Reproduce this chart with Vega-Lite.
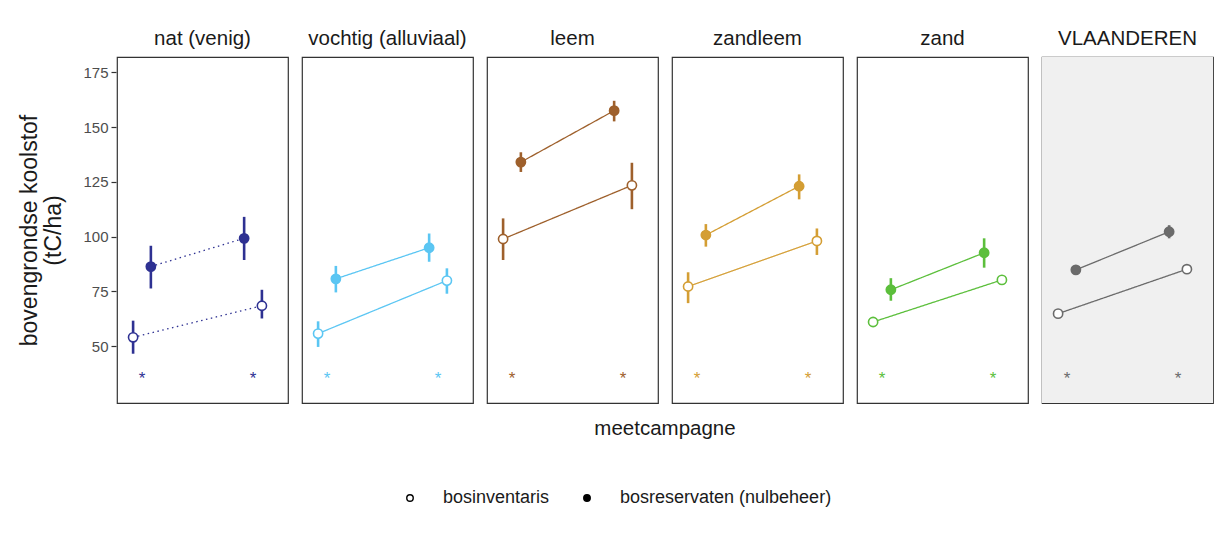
{
  "$schema": "https://vega.github.io/schema/vega-lite/v6.json",
  "background": "white",
  "padding": {"left": 18, "top": 28, "right": 10, "bottom": 10},
  "data": {
    "values": [
      {"soort": "meting", "regio": "nat (venig)", "reeks": "bosinventaris", "tijdstip": 0.92, "waarde": 54.0, "lo": 46.5, "hi": 61.6},
      {"soort": "meting", "regio": "nat (venig)", "reeks": "bosinventaris", "tijdstip": 2.08, "waarde": 68.4, "lo": 62.6, "hi": 75.7},
      {"soort": "meting", "regio": "nat (venig)", "reeks": "bosreservaten (nulbeheer)", "tijdstip": 1.08, "waarde": 86.3, "lo": 76.3, "hi": 95.8},
      {"soort": "meting", "regio": "nat (venig)", "reeks": "bosreservaten (nulbeheer)", "tijdstip": 1.92, "waarde": 99.2, "lo": 89.3, "hi": 109.0},
      {"soort": "meting", "regio": "vochtig (alluviaal)", "reeks": "bosinventaris", "tijdstip": 0.92, "waarde": 55.7, "lo": 49.6, "hi": 61.3},
      {"soort": "meting", "regio": "vochtig (alluviaal)", "reeks": "bosinventaris", "tijdstip": 2.08, "waarde": 79.9, "lo": 73.9, "hi": 85.5},
      {"soort": "meting", "regio": "vochtig (alluviaal)", "reeks": "bosreservaten (nulbeheer)", "tijdstip": 1.08, "waarde": 80.7, "lo": 74.5, "hi": 86.6},
      {"soort": "meting", "regio": "vochtig (alluviaal)", "reeks": "bosreservaten (nulbeheer)", "tijdstip": 1.92, "waarde": 94.9, "lo": 88.5, "hi": 101.4},
      {"soort": "meting", "regio": "leem", "reeks": "bosinventaris", "tijdstip": 0.92, "waarde": 98.9, "lo": 89.3, "hi": 108.3},
      {"soort": "meting", "regio": "leem", "reeks": "bosinventaris", "tijdstip": 2.08, "waarde": 123.4, "lo": 112.5, "hi": 133.7},
      {"soort": "meting", "regio": "leem", "reeks": "bosreservaten (nulbeheer)", "tijdstip": 1.08, "waarde": 134.0, "lo": 129.5, "hi": 138.5},
      {"soort": "meting", "regio": "leem", "reeks": "bosreservaten (nulbeheer)", "tijdstip": 1.92, "waarde": 157.5, "lo": 152.6, "hi": 162.0},
      {"soort": "meting", "regio": "zandleem", "reeks": "bosinventaris", "tijdstip": 0.92, "waarde": 77.2, "lo": 69.6, "hi": 83.7},
      {"soort": "meting", "regio": "zandleem", "reeks": "bosinventaris", "tijdstip": 2.08, "waarde": 98.0, "lo": 91.6, "hi": 103.7},
      {"soort": "meting", "regio": "zandleem", "reeks": "bosreservaten (nulbeheer)", "tijdstip": 1.08, "waarde": 100.7, "lo": 95.4, "hi": 105.7},
      {"soort": "meting", "regio": "zandleem", "reeks": "bosreservaten (nulbeheer)", "tijdstip": 1.92, "waarde": 123.0, "lo": 117.0, "hi": 128.4},
      {"soort": "meting", "regio": "zand", "reeks": "bosinventaris", "tijdstip": 0.92, "waarde": 61.0, "lo": 60.0, "hi": 62.0},
      {"soort": "meting", "regio": "zand", "reeks": "bosinventaris", "tijdstip": 2.08, "waarde": 80.2, "lo": 79.3, "hi": 81.1},
      {"soort": "meting", "regio": "zand", "reeks": "bosreservaten (nulbeheer)", "tijdstip": 1.08, "waarde": 75.7, "lo": 70.7, "hi": 81.0},
      {"soort": "meting", "regio": "zand", "reeks": "bosreservaten (nulbeheer)", "tijdstip": 1.92, "waarde": 92.6, "lo": 85.8, "hi": 99.2},
      {"soort": "meting", "regio": "VLAANDEREN", "reeks": "bosinventaris", "tijdstip": 0.92, "waarde": 64.8, "lo": 64.2, "hi": 65.4},
      {"soort": "meting", "regio": "VLAANDEREN", "reeks": "bosinventaris", "tijdstip": 2.08, "waarde": 85.1, "lo": 84.5, "hi": 85.7},
      {"soort": "meting", "regio": "VLAANDEREN", "reeks": "bosreservaten (nulbeheer)", "tijdstip": 1.08, "waarde": 84.8, "lo": 82.6, "hi": 87.0},
      {"soort": "meting", "regio": "VLAANDEREN", "reeks": "bosreservaten (nulbeheer)", "tijdstip": 1.92, "waarde": 102.2, "lo": 99.2, "hi": 105.2},
      {"soort": "sig", "regio": "nat (venig)", "tijdstip": 1, "label": "*"},
      {"soort": "sig", "regio": "nat (venig)", "tijdstip": 2, "label": "*"},
      {"soort": "sig", "regio": "vochtig (alluviaal)", "tijdstip": 1, "label": "*"},
      {"soort": "sig", "regio": "vochtig (alluviaal)", "tijdstip": 2, "label": "*"},
      {"soort": "sig", "regio": "leem", "tijdstip": 1, "label": "*"},
      {"soort": "sig", "regio": "leem", "tijdstip": 2, "label": "*"},
      {"soort": "sig", "regio": "zandleem", "tijdstip": 1, "label": "*"},
      {"soort": "sig", "regio": "zandleem", "tijdstip": 2, "label": "*"},
      {"soort": "sig", "regio": "zand", "tijdstip": 1, "label": "*"},
      {"soort": "sig", "regio": "zand", "tijdstip": 2, "label": "*"},
      {"soort": "sig", "regio": "VLAANDEREN", "tijdstip": 1, "label": "*"},
      {"soort": "sig", "regio": "VLAANDEREN", "tijdstip": 2, "label": "*"}
    ]
  },
  "facet": {
    "column": {
      "field": "regio",
      "type": "nominal",
      "sort": ["nat (venig)", "vochtig (alluviaal)", "leem", "zandleem", "zand", "VLAANDEREN"],
      "header": {
        "labelOrient": "top",
        "labelFont": "Liberation Sans",
        "labelFontSize": 20.5,
        "labelColor": "#1a1a1a",
        "labelPadding": 7,
        "title": "meetcampagne",
        "titleOrient": "bottom",
        "titleFont": "Liberation Sans",
        "titleFontSize": 20.5,
        "titleFontWeight": "normal",
        "titleColor": "#1a1a1a",
        "titlePadding": 5
      }
    }
  },
  "spacing": 12,
  "spec": {
    "width": 171,
    "height": 346,
    "layer": [
      {
        "transform": [{"filter": "datum.soort === 'meting' && datum.regio === 'VLAANDEREN' && datum.tijdstip < 1"}],
        "mark": {"type": "rect", "fill": "#f0f0f0"},
        "encoding": {
          "x": {"datum": 0.775, "type": "quantitative", "axis": null},
          "x2": {"datum": 2.315},
          "y": {"datum": 24, "type": "quantitative", "axis": {"title": "bovengrondse koolstof\n(tC/ha)", "values": [50, 75, 100, 125, 150, 175], "grid": false, "domain": false, "tickColor": "#333333", "tickSize": 5, "tickWidth": 1.2, "labelFont": "Liberation Sans", "labelFontSize": 15, "labelColor": "#4d4d4d", "labelPadding": 3, "titleFont": "Liberation Sans", "titleFontSize": 23, "titleFontWeight": "normal", "titleColor": "#1a1a1a", "titlePadding": 17, "titleLineHeight": 24}},
          "y2": {"datum": 182}
        }
      },
      {
        "transform": [{"filter": "datum.soort === 'meting'"}],
        "mark": {"type": "line", "strokeWidth": 1.3},
        "encoding": {
          "x": {"field": "tijdstip", "type": "quantitative", "scale": {"domain": [0.775, 2.315], "nice": false, "zero": false}, "axis": null},
          "y": {
            "field": "waarde", "type": "quantitative",
            "scale": {"domain": [24, 182], "nice": false, "zero": false},
            "axis": {"title": "bovengrondse koolstof\n(tC/ha)", "values": [50, 75, 100, 125, 150, 175], "grid": false, "domain": false, "tickColor": "#333333", "tickSize": 5, "tickWidth": 1.2, "labelFont": "Liberation Sans", "labelFontSize": 15, "labelColor": "#4d4d4d", "labelPadding": 3, "titleFont": "Liberation Sans", "titleFontSize": 23, "titleFontWeight": "normal", "titleColor": "#1a1a1a", "titlePadding": 17, "titleLineHeight": 24}
          },
          "detail": {"field": "reeks", "type": "nominal"},
          "color": {
            "field": "regio", "type": "nominal", "legend": null,
            "scale": {"domain": ["nat (venig)", "vochtig (alluviaal)", "leem", "zandleem", "zand", "VLAANDEREN"], "range": ["#2e3192", "#5bc6f3", "#9e602c", "#d49e34", "#5cbf3c", "#6b6b6b"]}
          },
          "strokeDash": {
            "field": "regio", "type": "nominal", "legend": null,
            "scale": {"domain": ["nat (venig)", "vochtig (alluviaal)", "leem", "zandleem", "zand", "VLAANDEREN"], "range": [[1.5, 3.5], [1, 0], [1, 0], [1, 0], [1, 0], [1, 0]]}
          }
        }
      },
      {
        "transform": [{"filter": "datum.soort === 'meting'"}],
        "mark": {"type": "rule", "strokeWidth": 2.6},
        "encoding": {
          "x": {"field": "tijdstip", "type": "quantitative", "axis": null},
          "y": {"field": "lo", "type": "quantitative", "axis": {"title": "bovengrondse koolstof\n(tC/ha)", "values": [50, 75, 100, 125, 150, 175], "grid": false, "domain": false, "tickColor": "#333333", "tickSize": 5, "tickWidth": 1.2, "labelFont": "Liberation Sans", "labelFontSize": 15, "labelColor": "#4d4d4d", "labelPadding": 3, "titleFont": "Liberation Sans", "titleFontSize": 23, "titleFontWeight": "normal", "titleColor": "#1a1a1a", "titlePadding": 17, "titleLineHeight": 24}},
          "y2": {"field": "hi"},
          "color": {"field": "regio", "type": "nominal", "legend": null}
        }
      },
      {
        "transform": [{"filter": "datum.soort === 'meting'"}],
        "mark": {"type": "point", "filled": true, "size": 85, "strokeWidth": 0, "opacity": 1},
        "encoding": {
          "x": {"field": "tijdstip", "type": "quantitative", "axis": null},
          "y": {"field": "waarde", "type": "quantitative", "axis": {"title": "bovengrondse koolstof\n(tC/ha)", "values": [50, 75, 100, 125, 150, 175], "grid": false, "domain": false, "tickColor": "#333333", "tickSize": 5, "tickWidth": 1.2, "labelFont": "Liberation Sans", "labelFontSize": 15, "labelColor": "#4d4d4d", "labelPadding": 3, "titleFont": "Liberation Sans", "titleFontSize": 23, "titleFontWeight": "normal", "titleColor": "#1a1a1a", "titlePadding": 17, "titleLineHeight": 24}},
          "fill": {
            "field": "reeks", "type": "nominal",
            "scale": {"domain": ["bosinventaris", "bosreservaten (nulbeheer)"], "range": ["white", "black"]},
            "legend": {
              "orient": "bottom", "direction": "horizontal", "title": null,
              "labelFont": "Liberation Sans", "labelFontSize": 18, "labelColor": "#1a1a1a", "labelLimit": 400,
              "symbolSize": 42, "symbolStrokeWidth": 1.4, "symbolStrokeColor": "black", "symbolType": "circle",
              "labelOffset": 24, "columnPadding": 28, "offset": 49
            }
          }
        }
      },
      {
        "transform": [{"filter": "datum.soort === 'meting'"}],
        "mark": {"type": "point", "filled": true, "size": 85, "strokeWidth": 1.6, "opacity": 1},
        "encoding": {
          "x": {"field": "tijdstip", "type": "quantitative", "axis": null},
          "y": {"field": "waarde", "type": "quantitative", "axis": {"title": "bovengrondse koolstof\n(tC/ha)", "values": [50, 75, 100, 125, 150, 175], "grid": false, "domain": false, "tickColor": "#333333", "tickSize": 5, "tickWidth": 1.2, "labelFont": "Liberation Sans", "labelFontSize": 15, "labelColor": "#4d4d4d", "labelPadding": 3, "titleFont": "Liberation Sans", "titleFontSize": 23, "titleFontWeight": "normal", "titleColor": "#1a1a1a", "titlePadding": 17, "titleLineHeight": 24}},
          "color": {"field": "regio", "type": "nominal", "legend": null},
          "stroke": {
            "field": "regio", "type": "nominal", "legend": null,
            "scale": {"domain": ["nat (venig)", "vochtig (alluviaal)", "leem", "zandleem", "zand", "VLAANDEREN"], "range": ["#2e3192", "#5bc6f3", "#9e602c", "#d49e34", "#5cbf3c", "#6b6b6b"]}
          },
          "fillOpacity": {
            "field": "reeks", "type": "nominal", "legend": null,
            "scale": {"domain": ["bosinventaris", "bosreservaten (nulbeheer)"], "range": [0, 1]}
          }
        }
      },
      {
        "transform": [{"filter": "datum.soort === 'sig'"}],
        "mark": {"type": "text", "font": "Liberation Sans", "fontSize": 17, "baseline": "middle", "dy": 4},
        "encoding": {
          "x": {"field": "tijdstip", "type": "quantitative", "axis": null},
          "y": {"datum": 37, "type": "quantitative", "axis": {"title": "bovengrondse koolstof\n(tC/ha)", "values": [50, 75, 100, 125, 150, 175], "grid": false, "domain": false, "tickColor": "#333333", "tickSize": 5, "tickWidth": 1.2, "labelFont": "Liberation Sans", "labelFontSize": 15, "labelColor": "#4d4d4d", "labelPadding": 3, "titleFont": "Liberation Sans", "titleFontSize": 23, "titleFontWeight": "normal", "titleColor": "#1a1a1a", "titlePadding": 17, "titleLineHeight": 24}},
          "text": {"field": "label"},
          "color": {"field": "regio", "type": "nominal", "legend": null}
        }
      }
    ]
  },
  "config": {
    "lineBreak": "\n",
    "view": {"stroke": "#333333", "strokeWidth": 1.2},
    "font": "Liberation Sans",
    "legend": {"layout": {"bottom": {"anchor": "middle"}}}
  }
}
